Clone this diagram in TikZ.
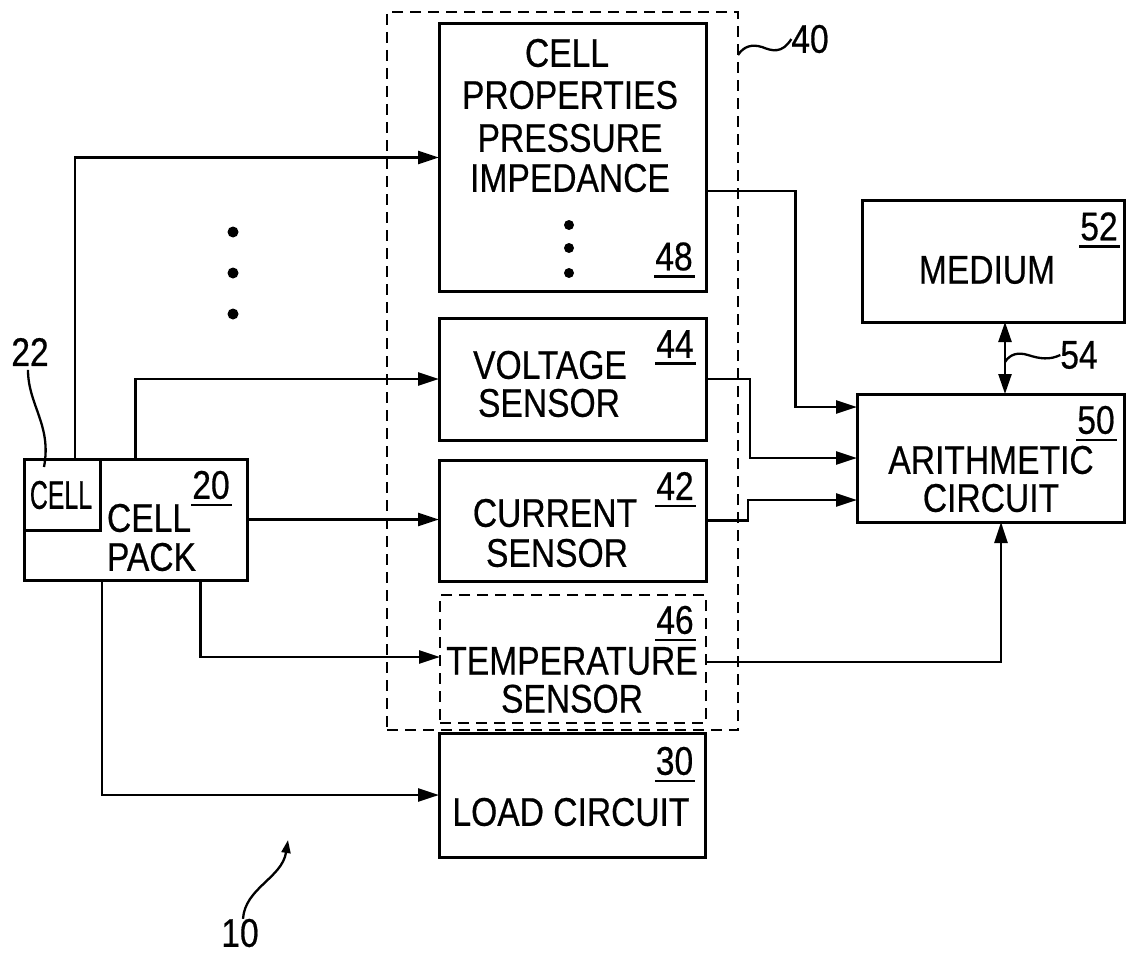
\documentclass[tikz,border=0pt]{standalone}
\usepackage{fontspec}
\usepackage{graphicx}
\usetikzlibrary{arrows.meta,calc}
\newfontfamily\pf[FakeStretch=0.84,FakeBold=0.5]{Liberation Sans}
\tikzset{
  box/.style={draw, line width=3pt, inner sep=0pt, outer sep=0pt},
  dbox/.style={box, line width=2.8pt, dash pattern=on 11pt off 7pt},
  txt/.style={inner sep=0pt, outer sep=0pt, font=\pf\fontsize{40}{44}\selectfont},
  txt2/.style={txt, align=center, font=\pf\fontsize{40}{38}\selectfont},
  conn/.style={line width=2.5pt, -{Triangle[length=21pt,width=13pt]}},
  wire/.style={line width=2.3pt},
  uline/.style={line width=2.6pt},
  dot/.style={circle, fill=black, inner sep=0pt, minimum size=11pt},
  sdot/.style={circle, fill=black, inner sep=0pt, minimum size=10pt}
}
\begin{document}
\begin{tikzpicture}[x=1pt,y=-1pt]
\useasboundingbox (0,0) rectangle (1127,955);
% group 40
\node[dbox, minimum width=351pt, minimum height=718pt] (grp40) at (562.5,371) {};
% boxes
\node[box, minimum width=223pt, minimum height=121pt] (pack) at (135.5,519.5) {};
\node[box, minimum width=76pt, minimum height=71pt] (cell) at (62,494.5) {};
\node[box, minimum width=267pt, minimum height=267pt] (n48) at (572.5,157.5) {};
\node[box, minimum width=267pt, minimum height=122pt] (n44) at (572.5,379) {};
\node[box, minimum width=267pt, minimum height=121pt] (n42) at (572.5,520.5) {};
\node[dbox, minimum width=266pt, minimum height=128pt] (n46) at (573,659) {};
\node[box, minimum width=266pt, minimum height=124pt] (n30) at (572,795) {};
\node[box, minimum width=262pt, minimum height=122pt] (n52) at (993,261) {};
\node[box, minimum width=267pt, minimum height=128pt] (n50) at (990.5,458) {};
% texts
\node[txt] (tcell) at (61,495) {\scalebox{0.74}[1]{CELL}};
\node[txt, anchor=west] (tpa) at (107,518) {CELL};
\node[txt, anchor=west] (tpb) at (107,557) {PACK};
\node[txt] (t48a) at (567,53) {CELL};
\node[txt] (t48b) at (570,95) {PROPERTIES};
\node[txt] (t48c) at (570,138) {PRESSURE};
\node[txt] (t48d) at (570,178) {IMPEDANCE};
\node[txt] (t44a) at (550,365) {VOLTAGE};
\node[txt] (t44b) at (549,403) {SENSOR};
\node[txt] (t42a) at (555,513) {CURRENT};
\node[txt] (t42b) at (557,553) {SENSOR};
\node[txt2] (t46) at (572,680) {TEMPERATURE\\SENSOR};
\node[txt] (t30) at (571,812) {LOAD CIRCUIT};
\node[txt] (t52) at (987,270) {MEDIUM};
\node[txt2] (t50) at (991,479) {ARITHMETIC\\CIRCUIT};
% reference numbers
\node[txt] (u20) at (211,485) {20};
\node[txt] (u48) at (674,256.5) {48};
\node[txt] (u44) at (675,344) {44};
\node[txt] (u42) at (675,486) {42};
\node[txt] (u46) at (675,620) {46};
\node[txt] (u30) at (674.5,761) {30};
\node[txt] (u52) at (1099,226.5) {52};
\node[txt] (u50) at (1096,420) {50};
\node[txt] (l54) at (1079,355) {54};
\node[txt] (l40) at (810,39) {40};
\node[txt] (l22) at (30,352) {22};
\node[txt] (l10) at (240,933) {10};
\foreach \n in {u20,u48,u44,u42,u46,u30,u52,u50}
  \draw[uline] ([yshift=-6pt,xshift=-1pt]\n.south west) -- ([yshift=-6pt,xshift=2pt]\n.south east);
% dots
\node[dot] (d1) at (233,232) {};
\node[dot] (d2) at (233,273) {};
\node[dot] (d3) at (233,314) {};
\node[sdot] (e1) at (569,225) {};
\node[sdot] (e2) at (569,248) {};
\node[sdot] (e3) at (569,273) {};
% connectors from cell pack
\draw[conn] ([xshift=13pt]cell.north) |- (n48.west);
\draw[conn] (pack.north) |- (n44.west);
\draw[conn] (pack.east) -- (pack.east -| n42.west);
\draw[conn] ([xshift=65pt]pack.south) |- ([yshift=2pt]n46.west);
\draw[conn] ([xshift=-33.5pt]pack.south) |- (n30.west);
% to arithmetic circuit
\draw[conn] ([yshift=-33.5pt]n48.east) -- ++(89.5,0) |- ([yshift=51pt]n50.west);
\draw[conn] (n44.east) -- ++(44,0) |- (n50.west);
\draw[conn] (n42.east) -- ++(42,0) |- ([yshift=-42pt]n50.west);
\draw[conn] ([yshift=-3pt]n46.east) -| ([xshift=10.5pt]n50.south);
\draw[line width=2.5pt, {Triangle[length=20pt,width=13pt]}-{Triangle[length=20pt,width=13pt]}]
  ([xshift=14.5pt]n50.north) -- ([xshift=14.5pt]n50.north |- n52.south);
% leader lines
\draw[wire] ([yshift=-4pt,xshift=-2pt]l22.south) .. controls (28,405) and (52,425) .. (44,467);
\draw[wire] (738,55) .. controls (744,46) and (752,44) .. (762,47)
  .. controls (772,51) and (782,54) .. (l40.west);
\draw[wire] (1005,362) .. controls (1010,354) and (1018,352) .. (1028,355)
  .. controls (1040,359) and (1050,360) .. (l54.west);
\draw[line width=2.3pt, -{Triangle[length=13pt,width=9pt]}] ([xshift=3pt]l10.north) .. controls (245,888) and (282,878) .. (288,840);
\end{tikzpicture}
\end{document}
